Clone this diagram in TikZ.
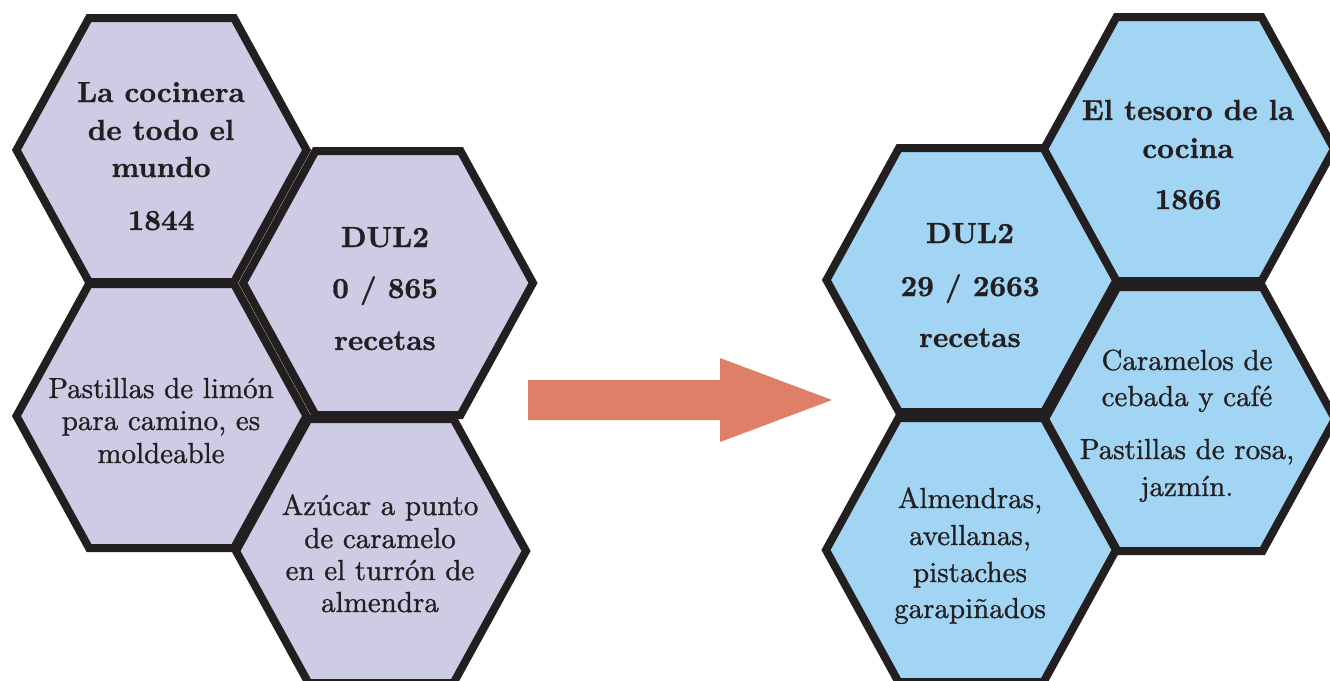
\documentclass[tikz,border=0pt]{standalone}
\usepackage{fontspec}
\newfontfamily\bodyface{lmroman10-regular.otf}[FakeBold=1]
\newfontfamily\titleface{lmroman10-bold.otf}[FakeBold=1]
\definecolor{ink}{RGB}{35,31,32}
\definecolor{lavender}{RGB}{206,204,229}
\definecolor{skyfill}{RGB}{161,213,243}
\definecolor{salmon}{RGB}{224,127,103}
\tikzset{
  hexcell/.style={draw=ink, line width=8pt, line join=miter},
  titletxt/.style={anchor=base, inner sep=0pt, text=ink,
    font=\titleface\fontsize{29}{32}\selectfont},
  bodytxt/.style={anchor=base, inner sep=0pt, text=ink,
    font=\bodyface\fontsize{29}{32}\selectfont},
}
% flat-topped hexagon cell: centre x, centre y, fill colour
\newcommand\hexcell[3]{%
  \filldraw[hexcell, fill=#3, shift={(#1,#2)}]
    (-145,0) -- (-72.5,-132) -- (72.5,-132) -- (145,0)
    -- (72.5,132) -- (-72.5,132) -- cycle;}
\begin{document}
\begin{tikzpicture}[x=1pt, y=-1pt]
\clip (0,0) rectangle (1330,680);
\fill[white] (0,0) rectangle (1330,680);

% left honeycomb
\hexcell{161.5}{150}{lavender}
\hexcell{161.5}{416}{lavender}
\hexcell{388}{283}{lavender}
\hexcell{381}{551}{lavender}

% right honeycomb
\hexcell{971.5}{280}{skyfill}
\hexcell{1189}{149}{skyfill}
\hexcell{1190}{419}{skyfill}
\hexcell{971}{550}{skyfill}

% block arrow between the two groups
\fill[salmon] (528,380) -- (720,380) -- (720,358) -- (832,400)
  -- (720,442) -- (720,420) -- (528,420) -- cycle;

% left cell texts
\node[titletxt] (la1) at (161,102) {La cocinera};
\node[titletxt] (la2) at (161,140) {de todo el};
\node[titletxt] (la3) at (161,177) {mundo};
\node[titletxt] (la4) at (161,230) {1844};

\node[titletxt] (lb1) at (385,247) {DUL2};
\node[titletxt] (lb2) at (385,298) {0 / 865};
\node[titletxt] (lb3) at (385,350) {recetas};

\node[bodytxt] (lc1) at (161,398) {Pastillas de limón};
\node[bodytxt] (lc2) at (161,430) {para camino, es};
\node[bodytxt] (lc3) at (161,463) {moldeable};

\node[bodytxt] (ld1) at (380,515) {Azúcar a punto};
\node[bodytxt] (ld2) at (380,548) {de caramelo};
\node[bodytxt] (ld3) at (380,580) {en el turrón de};
\node[bodytxt] (ld4) at (380,612) {almendra};

% right cell texts
\node[titletxt] (ra1) at (1188,120) {El tesoro de la};
\node[titletxt] (ra2) at (1188,158) {cocina};
\node[titletxt] (ra3) at (1188,209) {1866};

\node[titletxt] (rb1) at (970,243) {DUL2};
\node[titletxt] (rb2) at (970,296) {29 / 2663};
\node[titletxt] (rb3) at (970,347) {recetas};

\node[bodytxt] (rc1) at (1187,370) {Caramelos de};
\node[bodytxt] (rc2) at (1187,406) {cebada y café};
\node[bodytxt] (rc3) at (1187,459) {Pastillas de rosa,};
\node[bodytxt] (rc4) at (1187,496) {jazmín.};

\node[bodytxt] (rd1) at (970,508) {Almendras,};
\node[bodytxt] (rd2) at (970,545) {avellanas,};
\node[bodytxt] (rd3) at (970,582) {pistaches};
\node[bodytxt] (rd4) at (970,618) {garapiñados};
\end{tikzpicture}
\end{document}
